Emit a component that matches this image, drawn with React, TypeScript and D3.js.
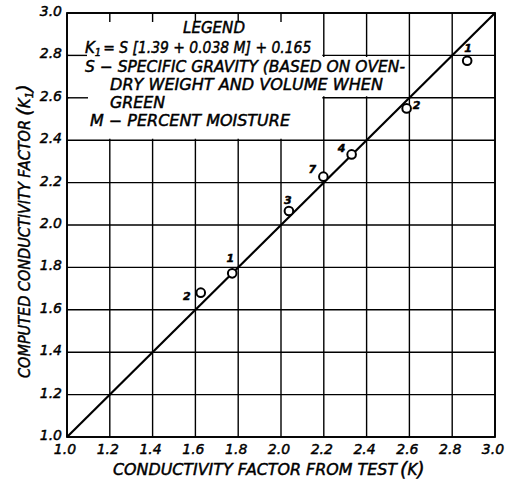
import React from "react";
import * as d3 from "d3";

// values
const testK = [1.625, 1.772, 2.037, 2.198, 2.33, 2.587, 2.87];
const computedK = [1.681, 1.772, 2.066, 2.228, 2.333, 2.55, 2.775];
const pointLabels = ["2", "1", "3", "7", "4", "2", "1"];
const xTicks = [1.0, 1.2, 1.4, 1.6, 1.8, 2.0, 2.2, 2.4, 2.6, 2.8, 3.0];
const yTicks = [1.0, 1.2, 1.4, 1.6, 1.8, 2.0, 2.2, 2.4, 2.6, 2.8, 3.0];
const fitLine = [1.0, 3.0];

// label nudges (px) relative to each point, layout only
const labelOffsets = [
  [-14, 4],
  [-2, -14],
  [-1, -10],
  [-11, -7],
  [-10, -5],
  [10, -2],
  [1, -12],
];

const W = 509;
const H = 481;
const FONT = "'DejaVu Sans', sans-serif";

export default function App() {
  const x = d3.scaleLinear().domain([1, 3]).range([67, 495]);
  const y = d3.scaleLinear().domain([1, 3]).range([437, 13]);

  // white patch behind the legend text
  const x0 = x(1.0) + 1.5;
  const xa = x(2.2) - 1.5;
  const xb = x(2.6) - 1.5;
  const mask = [
    [x0, y(3.0) + 9],
    [xa, y(3.0) + 9],
    [xa, y(2.8) + 1.5],
    [xb, y(2.8) + 1.5],
    [xb, y(2.6) - 1.5],
    [xa, y(2.6) - 1.5],
    [xa, y(2.4) - 1.5],
    [x0, y(2.4) - 1.5],
  ];

  const diag = d3
    .line<number>()
    .x((d) => x(d))
    .y((d) => y(d))(fitLine);

  // slightly heavier strokes to mimic the pen lettering
  const txt = {
    fontFamily: FONT,
    fontStyle: "italic" as const,
    fill: "#000",
    stroke: "#000",
    strokeWidth: 0.45,
  };

  return (
    <svg
      width={W}
      height={H}
      style={{ position: "absolute", left: 0, top: 0, background: "#fff" }}
    >
      {/* grid */}
      <g stroke="#000" strokeWidth={1.4}>
        {xTicks.map((t) => (
          <line key={"vx" + t} x1={x(t)} x2={x(t)} y1={y(1)} y2={y(3)} />
        ))}
        {yTicks.map((t) => (
          <line key={"hy" + t} x1={x(1)} x2={x(3)} y1={y(t)} y2={y(t)} />
        ))}
      </g>

      <polygon points={mask.map((p) => p.join(",")).join(" ")} fill="#fff" />

      {/* short stubs left of the legend */}
      <g stroke="#000" strokeWidth={1.4}>
        <line x1={x(1)} x2={x(1) + 20} y1={y(2.8)} y2={y(2.8)} />
        <line x1={x(1)} x2={x(1) + 21} y1={y(2.6)} y2={y(2.6)} />
      </g>

      {/* frame */}
      <rect
        x={x(1)}
        y={y(3)}
        width={x(3) - x(1)}
        height={y(1) - y(3)}
        fill="none"
        stroke="#000"
        strokeWidth={1.8}
      />

      <path d={diag || ""} fill="none" stroke="#000" strokeWidth={2.2} />

      {testK.map((v, i) => (
        <circle
          key={"c" + i}
          cx={x(v)}
          cy={y(computedK[i])}
          r={4.3}
          fill="#fff"
          stroke="#000"
          strokeWidth={2}
        />
      ))}
      {testK.map((v, i) => (
        <text
          key={"l" + i}
          x={x(v) + labelOffsets[i][0]}
          y={y(computedK[i]) + labelOffsets[i][1]}
          fontSize={11}
          fontWeight="bold"
          textAnchor="middle"
          dominantBaseline="middle"
          {...txt}
        >
          {pointLabels[i]}
        </text>
      ))}

      {/* tick labels */}
      {yTicks.map((t) => (
        <text
          key={"yt" + t}
          x={62}
          y={y(t) + 3}
          fontSize={14}
          textAnchor="end"
          {...txt}
        >
          {t.toFixed(1)}
        </text>
      ))}
      {xTicks.map((t) => (
        <text
          key={"xt" + t}
          x={x(t) - 2}
          y={454}
          fontSize={14}
          textAnchor="middle"
          {...txt}
        >
          {t.toFixed(1)}
        </text>
      ))}

      {/* axis titles */}
      <text x={113} y={475} fontSize={15} {...txt}>
        <tspan textLength={284} lengthAdjust="spacingAndGlyphs">
          CONDUCTIVITY FACTOR FROM TEST
        </tspan>
        <tspan dx={3} fontSize={19} dy={1}>(</tspan>
        <tspan dy={-1}>K</tspan>
        <tspan fontSize={19} dy={1}>)</tspan>
      </text>

      <g transform="translate(30,378) rotate(-90)">
        <text x={0} y={0} fontSize={15} {...txt}>
          <tspan textLength={258} lengthAdjust="spacingAndGlyphs">
            COMPUTED CONDUCTIVITY FACTOR
          </tspan>
          <tspan dx={4} fontSize={20} dy={1}>(</tspan>
          <tspan dy={-1}>K</tspan>
          <tspan fontSize={10} dy={3}>1</tspan>
          <tspan fontSize={20} dy={-2}>)</tspan>
        </text>
      </g>

      {/* legend */}
      <g fontSize={15} {...txt}>
        <text x={183} y={33} textLength={62} lengthAdjust="spacingAndGlyphs">
          LEGEND
        </text>
        <text x={85} y={53}>
          <tspan>K</tspan>
          <tspan fontSize={10} dy={3}>1</tspan>
          <tspan dy={-3} dx={2} textLength={208} lengthAdjust="spacingAndGlyphs">
            = S [1.39 + 0.038 M] + 0.165
          </tspan>
        </text>
        <text x={85} y={72} textLength={320} lengthAdjust="spacingAndGlyphs">
          S − SPECIFIC GRAVITY (BASED ON OVEN-
        </text>
        <text x={110} y={90} textLength={273} lengthAdjust="spacingAndGlyphs">
          DRY WEIGHT AND VOLUME WHEN
        </text>
        <text x={110} y={108} textLength={55} lengthAdjust="spacingAndGlyphs">
          GREEN
        </text>
        <text x={90} y={126} textLength={200} lengthAdjust="spacingAndGlyphs">
          M − PERCENT MOISTURE
        </text>
      </g>
    </svg>
  );
}
